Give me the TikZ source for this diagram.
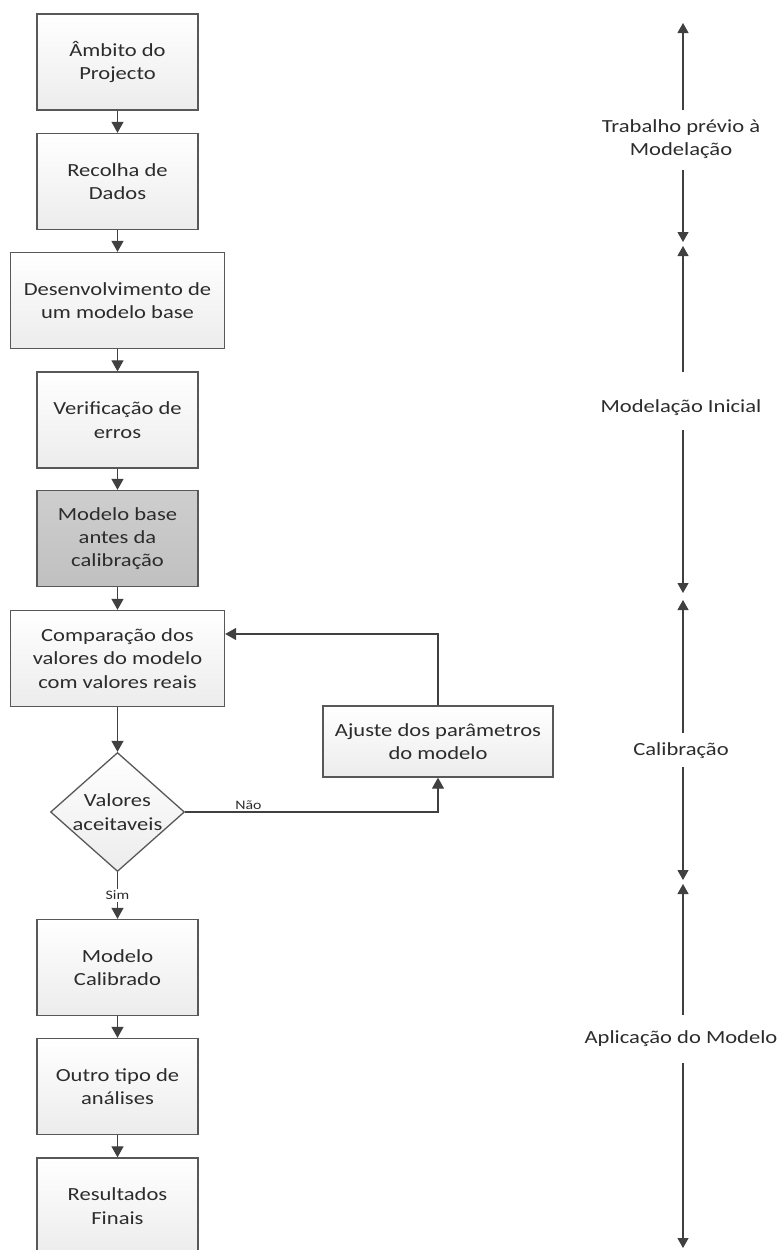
\documentclass[tikz,border=0pt]{standalone}
\usepackage{fontspec}
\setmainfont{Carlito}[FakeStretch=1.22]
\usetikzlibrary{arrows.meta,shapes.geometric}
\definecolor{ink}{HTML}{404040}
\definecolor{edge}{HTML}{585858}
\definecolor{txt}{HTML}{2C2C2C}
\definecolor{boxtop}{HTML}{FFFFFF}
\definecolor{boxbot}{HTML}{ECECEC}
\definecolor{greytop}{HTML}{CECECE}
\definecolor{greybot}{HTML}{C0C0C0}
\begin{document}
\begin{tikzpicture}[x=1pt,y=-1pt,
  bodyfont/.style={font=\fontsize{18.5}{23.3}\selectfont, text=txt, align=center},
  box/.style={bodyfont, draw=edge, line width=1.3pt, top color=boxtop, bottom color=boxbot,
              minimum width=161pt, minimum height=96pt, inner sep=2pt},
  greybox/.style={top color=greytop, bottom color=greybot},
  decision/.style={diamond, draw=edge, line width=1.3pt, top color=boxtop, bottom color=boxbot,
                   minimum width=134pt, minimum height=119pt, inner sep=0pt},
  flow/.style={draw=ink, line width=1.2pt, -{Triangle[length=11pt,width=12pt]}},
  axis/.style={draw=ink, line width=1.1pt, -{Triangle[length=10pt,width=11pt]}},
  smalllabel/.style={font=\fontsize{13}{15}\selectfont, text=txt, inner sep=1.5pt},
  axislabel/.style={bodyfont, inner sep=0pt}
]
\useasboundingbox (0,0) rectangle (781,1250);
\clip (0,0) rectangle (781,1250);

% main flow
\node[box] (amb) at (117.5,62) {Âmbito do\\Projecto};
\node[box] (rec) at (117.5,181.5) {Recolha de\\Dados};
\node[box, minimum width=214pt] (dev) at (117.5,300.5) {Desenvolvimento de\\um modelo base};
\node[box] (ver) at (117.5,420) {Verificação de\\erros};
\node[box, greybox] (mbc) at (117.5,538.5) {Modelo base\\antes da\\calibração};
\node[box, minimum width=214pt] (cmp) at (117.5,658.5) {Comparação dos\\valores do modelo\\com valores reais};
\node[decision] (dec) at (117.5,812) {};
\node[bodyfont] (dect) at (dec.center) {Valores\\aceitaveis};
\node[box, minimum width=230pt, minimum height=71pt] (adj) at (438,741.5) {Ajuste dos parâmetros\\do modelo};
\node[box] (mcal) at (117.5,967.5) {Modelo\\Calibrado};
\node[box] (out) at (117.5,1086.5) {Outro tipo de\\análises};
\node[box] (res) at (117.5,1206) {Resultados\\Finais};

\draw[flow] (amb) -- (rec);
\draw[flow] (rec) -- (dev);
\draw[flow] (dev) -- (ver);
\draw[flow] (ver) -- (mbc);
\draw[flow] (mbc) -- (cmp);
\draw[flow] (cmp) -- (dec);
\draw[flow] (dec) -- node[smalllabel, fill=white] (sim) {Sim} (mcal);
\draw[flow] (mcal) -- (out);
\draw[flow] (out) -- (res);

% rejection loop
\draw[flow] (dec.east) -| node[smalllabel, pos=0.125, above] (nao) {Não} (adj.south);
\coordinate (loop) at (438,634);
\draw[flow] (adj.north) -- (loop) -- (loop -| cmp.east);

% phase axis
\coordinate (p1a) at (683,23);   \coordinate (p1g) at (683,110);
\coordinate (p1h) at (683,170);  \coordinate (p1b) at (683,242);
\coordinate (p2a) at (683,246);  \coordinate (p2g) at (683,372);
\coordinate (p2h) at (683,430);  \coordinate (p2b) at (683,593);
\coordinate (p3a) at (683,600);  \coordinate (p3g) at (683,733);
\coordinate (p3h) at (683,767);  \coordinate (p3b) at (683,880);
\coordinate (p4a) at (683,884);  \coordinate (p4g) at (683,1015);
\coordinate (p4h) at (683,1063); \coordinate (p4b) at (683,1248);

\draw[axis] (p1g) -- (p1a);  \draw[axis] (p1h) -- (p1b);
\draw[axis] (p2g) -- (p2a);  \draw[axis] (p2h) -- (p2b);
\draw[axis] (p3g) -- (p3a);  \draw[axis] (p3h) -- (p3b);
\draw[axis] (p4g) -- (p4a);  \draw[axis] (p4h) -- (p4b);

\node[axislabel] (ph1) at (681,139) {Trabalho prévio à\\Modelação};
\node[axislabel] (ph2) at (681,408) {Modelação Inicial};
\node[axislabel] (ph3) at (681,751) {Calibração};
\node[axislabel] (ph4) at (681,1039) {Aplicação do Modelo};
\end{tikzpicture}
\end{document}
